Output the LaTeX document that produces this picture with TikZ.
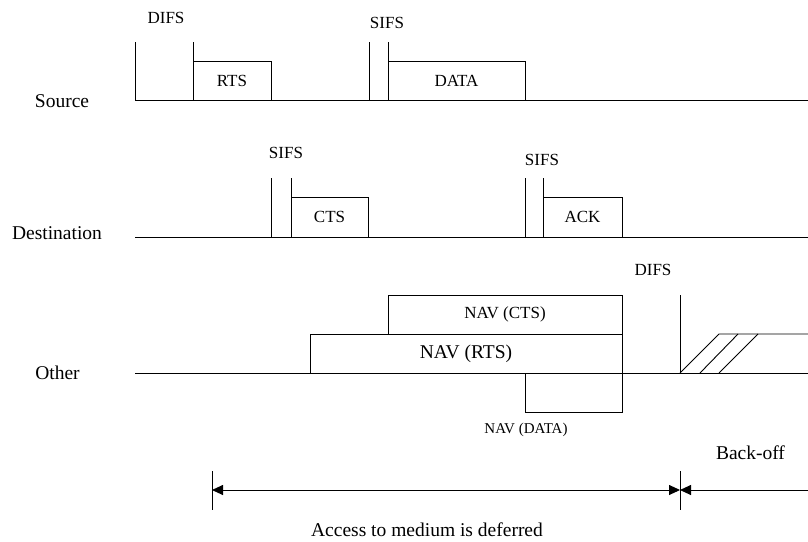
\documentclass[tikz,border=0pt]{standalone}
\usepackage{fontspec}
\setmainfont{Liberation Serif}
\usetikzlibrary{arrows.meta}
\begin{document}
\begin{tikzpicture}[x=1pt,y=-1pt,line width=0.9pt,
  frame/.style={draw,outer sep=0pt,inner sep=0pt,anchor=south west,
    font=\fontsize{17}{18}\selectfont},
  lbl/.style={inner sep=0pt,font=\fontsize{17}{18}\selectfont},
  biglbl/.style={inner sep=0pt,font=\fontsize{19.5}{21}\selectfont},
  smalllbl/.style={inner sep=0pt,font=\fontsize{15}{16}\selectfont},
  tipped/.style={-{Triangle[length=11pt,width=10pt]}},
  bothtipped/.style={{Triangle[length=11pt,width=10pt]}-{Triangle[length=11pt,width=10pt]}}]
\useasboundingbox (0,0) rectangle (808,541);

% ---- row labels
\node[biglbl] (srclbl) at (62,101) {Source};
\node[biglbl] (dstlbl) at (57,233) {Destination};
\node[biglbl] (othlbl) at (57.5,373) {Other};

% ---- time lines
\coordinate (s0) at (135,100); \coordinate (s1) at (808,100);
\coordinate (d0) at (135,237); \coordinate (d1) at (808,237);
\coordinate (o0) at (135,373); \coordinate (o1) at (808,373);
\draw (s0) -- (s1);
\draw (d0) -- (d1);
\draw (o0) -- (o1);

% ---- source: DIFS, RTS, SIFS, DATA
\draw (135,42) -- (135,100);
\draw (193,42) -- (193,100);
\node[lbl] (difs1) at (166,18) {DIFS};
\node[frame,minimum width=78pt,minimum height=39pt] (rts) at (193,100) {RTS};
\draw (369,42) -- (369,100);
\draw (388,42) -- (388,100);
\node[lbl] (sifs1) at (387,23) {SIFS};
\node[frame,minimum width=137pt,minimum height=39pt] (data) at (388,100) {DATA};

% ---- destination: SIFS, CTS, SIFS, ACK
\draw (271,178) -- (271,237);
\draw (291,178) -- (291,237);
\node[lbl] (sifs2) at (286,153) {SIFS};
\node[frame,minimum width=77pt,minimum height=40pt] (cts) at (291,237) {CTS};
\draw (525,178) -- (525,237);
\draw (543,178) -- (543,237);
\node[lbl] (sifs3) at (542,160) {SIFS};
\node[frame,minimum width=79pt,minimum height=40pt] (ack) at (543,237) {ACK};

% ---- other stations: NAV timers
\node[frame,minimum width=312pt,minimum height=39pt,
  font=\fontsize{19.5}{21}\selectfont] (navrts) at (310,373) {NAV (RTS)};
\node[frame,minimum width=234pt,minimum height=39pt] (navcts) at (388,334) {NAV (CTS)};
\node[draw,outer sep=0pt,inner sep=0pt,anchor=north west,
  minimum width=97pt,minimum height=39pt] (navdata) at (525,373) {};
\node[smalllbl] (navdatalbl) at (526,430) {NAV (DATA)};

% ---- DIFS and contention window
\draw (680,295) -- (680,373);
\node[lbl] (difs2) at (653,270) {DIFS};
\draw (680,373) -- (719,334) -- (808,334);
\draw (700,373) -- (738,334);
\draw (719,373) -- (758,334);

% ---- deferral and back-off
\coordinate (defL) at (212,490);
\coordinate (defR) at (680,490);
\coordinate (boR) at (808,490);
\draw (212,471) -- (212,510);
\draw (680,471) -- (680,510);
\draw[bothtipped] (defL) -- (defR);
\draw[tipped] (boR) -- (defR);
\node[biglbl] (backoff) at (750.5,453) {Back-off};
\node[biglbl] (defer) at (427,530) {Access to medium is deferred};
\end{tikzpicture}
\end{document}
